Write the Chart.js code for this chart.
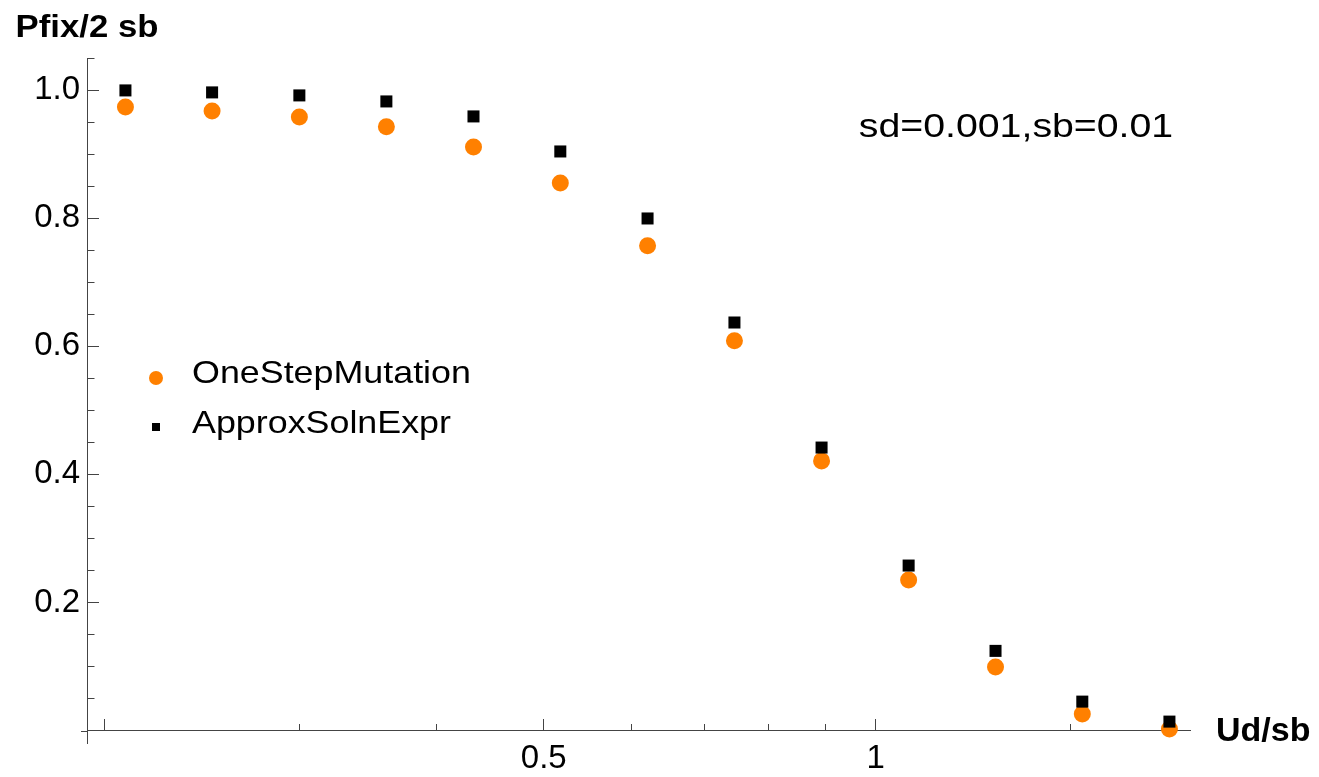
<!DOCTYPE html>
<html><head><meta charset="utf-8">
<script src="https://cdn.jsdelivr.net/npm/chart.js@4.4.0/dist/chart.umd.min.js"></script>
<style>html,body{margin:0;padding:0;background:#fff}#wrap{width:1319px;height:777px;position:relative}</style>
</head><body><div id="wrap"><canvas id="c" width="1319" height="777"></canvas></div>
<script>
// ---- data ----
const udOverSb = [0.2088, 0.2502, 0.3002, 0.360, 0.4318, 0.5176, 0.621, 0.7445, 0.893, 1.071, 1.284, 1.539, 1.846];
const oneStepMutation = [0.9735, 0.9672, 0.9578, 0.9427, 0.911, 0.8548, 0.7569, 0.6085, 0.4211, 0.2353, 0.0995, 0.0261, 0.0027];
const approxSolnExpr = [0.9994, 0.9963, 0.9916, 0.9822, 0.9588, 0.9041, 0.7995, 0.6371, 0.4419, 0.2577, 0.1245, 0.0453, 0.0141];
const seriesLabels = ['OneStepMutation', 'ApproxSolnExpr'];
const xMajorTicks = [0.2, 0.5, 1];
const xMajorLabels = ['', '0.5', '1'];
const xMinorTicks = [0.3, 0.4, 0.6, 0.7, 0.8, 0.9, 1.5];
const yMajorTicks = [0.2, 0.4, 0.6, 0.8, 1.0];
const yMajorLabels = ['0.2', '0.4', '0.6', '0.8', '1.0'];
const yMinorTicks = [0.05, 0.1, 0.15, 0.25, 0.3, 0.35, 0.45, 0.5, 0.55, 0.65, 0.7, 0.75, 0.85, 0.9, 0.95, 1.05];
const X_MIN = 0.1927, X_MAX = 1.927, Y_MIN = -0.0193, Y_MAX = 1.05;
const yTitle = 'Pfix/2 sb', xTitle = 'Ud/sb', note = 'sd=0.001,sb=0.01';

const FONT = "'Liberation Sans', Arial, Helvetica, sans-serif";
const ORANGE = '#FF8000', AXIS = '#444444';

const pts = ys => udOverSb.map((x, i) => ({x, y: ys[i]}));
const zeroPad = s => { s.paddingLeft = 0; s.paddingRight = 0; s.paddingTop = 0; s.paddingBottom = 0; };

function wideText(ctx, txt, x, y, sx) {
  ctx.save();
  ctx.translate(x, y);
  ctx.scale(sx, 1);
  ctx.fillText(txt, 0, 0);
  ctx.restore();
}

const textPlugin = {
  id: 'texts',
  afterDraw(chart) {
    const ctx = chart.ctx, ca = chart.chartArea;
    const ys = chart.scales.y;
    const y0 = ys.getPixelForValue(0);
    ctx.save();
    // small extension of the x axis to the left of the y axis
    ctx.strokeStyle = AXIS; ctx.lineWidth = 1;
    ctx.beginPath(); ctx.moveTo(ca.left - 6, Math.round(y0) + 0.5); ctx.lineTo(ca.left, Math.round(y0) + 0.5); ctx.stroke();
    ctx.fillStyle = '#000';
    // y title above the y axis
    ctx.font = `bold 31px ${FONT}`;
    ctx.textAlign = 'center'; ctx.textBaseline = 'alphabetic';
    wideText(ctx, yTitle, ca.left, 37, 1.12);
    // x title right of x axis
    ctx.font = `bold 33px ${FONT}`;
    ctx.textAlign = 'left'; ctx.textBaseline = 'middle';
    wideText(ctx, xTitle, ca.right + 26, y0 + 1, 1.03);
    // annotation
    ctx.font = `33px ${FONT}`;
    ctx.textAlign = 'center'; ctx.textBaseline = 'alphabetic';
    wideText(ctx, note, 1016, 137, 1.19);
    // legend
    ctx.font = `32px ${FONT}`;
    ctx.textAlign = 'left'; ctx.textBaseline = 'middle';
    ctx.fillStyle = ORANGE;
    ctx.beginPath(); ctx.arc(156, 378, 7, 0, Math.PI * 2); ctx.fill();
    ctx.fillStyle = '#000';
    ctx.fillRect(152, 423, 8, 8);
    wideText(ctx, seriesLabels[0], 192, 374, 1.12);
    wideText(ctx, seriesLabels[1], 192, 424, 1.12);
    ctx.restore();
  }
};

new Chart(document.getElementById('c'), {
  type: 'scatter',
  data: {
    datasets: [
      {label: seriesLabels[0], data: pts(oneStepMutation), pointStyle: 'circle', pointRadius: 8.5, pointHoverRadius: 8.5,
       backgroundColor: ORANGE, borderWidth: 0, order: 1},
      {label: seriesLabels[1], data: pts(approxSolnExpr), pointStyle: 'rect', pointRadius: 8.5, pointHoverRadius: 8.5,
       backgroundColor: '#000', borderWidth: 0, order: 0}
    ]
  },
  options: {
    responsive: false, animation: false, devicePixelRatio: 1,
    layout: {padding: {left: 0, top: 58, right: 129, bottom: 34}},
    plugins: {legend: {display: false}, tooltip: {enabled: false}},
    scales: {
      x: {
        type: 'logarithmic', position: {y: 0}, min: X_MIN, max: X_MAX, bounds: 'data',
        afterBuildTicks: s => { s.ticks = xMajorTicks.map(v => ({value: v})); },
        afterFit: zeroPad,
        ticks: {autoSkip: false, maxRotation: 0, padding: 20, color: '#000', font: {family: FONT, size: 33},
                callback: (v) => { const i = xMajorTicks.indexOf(v); return i >= 0 ? xMajorLabels[i] : ''; }},
        grid: {drawOnChartArea: false, drawTicks: true, tickLength: -12, tickColor: AXIS, tickWidth: 1},
        border: {display: true, color: AXIS, width: 1}
      },
      x2: {
        type: 'logarithmic', axis: 'x', position: {y: 0}, min: X_MIN, max: X_MAX, bounds: 'data',
        afterBuildTicks: s => { s.ticks = xMinorTicks.map(v => ({value: v})); },
        afterFit: zeroPad,
        ticks: {display: false, autoSkip: false},
        grid: {drawOnChartArea: false, drawTicks: true, tickLength: -7, tickColor: AXIS, tickWidth: 1},
        border: {display: false}
      },
      y: {
        type: 'linear', position: 'left', min: Y_MIN, max: Y_MAX, bounds: 'data',
        afterBuildTicks: s => { s.ticks = yMajorTicks.map(v => ({value: v})); },
        afterFit: s => { s.width = 87; zeroPad(s); },
        ticks: {autoSkip: false, padding: 19, color: '#000', font: {family: FONT, size: 33},
                callback: (v) => { const i = yMajorTicks.findIndex(t => Math.abs(t - v) < 1e-9); return i >= 0 ? yMajorLabels[i] : ''; }},
        grid: {drawOnChartArea: false, drawTicks: true, tickLength: -12, tickColor: AXIS, tickWidth: 1},
        border: {display: true, color: AXIS, width: 1}
      },
      y2: {
        type: 'linear', axis: 'y', position: {x: X_MIN}, min: Y_MIN, max: Y_MAX, bounds: 'data',
        afterBuildTicks: s => { s.ticks = yMinorTicks.map(v => ({value: v})); },
        afterFit: zeroPad,
        ticks: {display: false, autoSkip: false},
        grid: {drawOnChartArea: false, drawTicks: true, tickLength: -7.5, tickColor: AXIS, tickWidth: 1},
        border: {display: false}
      }
    }
  },
  plugins: [textPlugin]
});
</script>
</body></html>
